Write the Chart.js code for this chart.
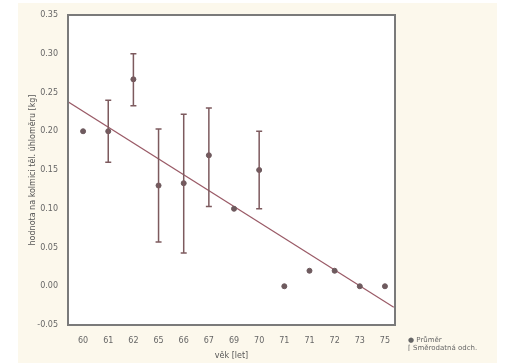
<!DOCTYPE html>
<html>
<head>
<meta charset="utf-8">
<script src="https://cdn.jsdelivr.net/npm/chart.js@4/dist/chart.umd.min.js"></script>
<style>
  html, body { margin: 0; padding: 0; background: #fff; }
  #wrap { position: absolute; left: 18px; top: 3px; width: 479px; height: 360px; background: #fcf8ec; }
  #legend { position: absolute; left: 390px; top: 333px; font: 7px "DejaVu Sans", sans-serif; color: #666; line-height: 8px; }
</style>
</head>
<body>
<div id="wrap">
  <canvas id="chart" width="479" height="360"></canvas>
  <div id="legend">&#9679; Průměr<br>&#8968; Směrodatná odch.</div>
</div>
<script>
// ages on x axis
const ages = ["60", "61", "62", "65", "66", "67", "69", "70", "71", "71", "72", "73", "75"];
const means = [0.20, 0.20, 0.267, 0.13, 0.133, 0.169, 0.10, 0.15, 0.00, 0.02, 0.02, 0.00, 0.00];
const errLow = [null, 0.16, 0.233, 0.057, 0.043, 0.103, null, 0.10, null, null, null, null, null];
const errHigh = [null, 0.24, 0.30, 0.203, 0.222, 0.23, null, 0.20, null, null, null, null, null];
// fitted line ends (index, value)
const fitX = [-0.6, 12.35];
const fitY = [0.238, -0.027];
const yTicks = [-0.05, 0.00, 0.05, 0.10, 0.15, 0.20, 0.25, 0.30, 0.35];

const errorBars = {
  id: 'errorBars',
  beforeDraw(chart) {
    const a = chart.chartArea, ctx = chart.ctx;
    ctx.save();
    ctx.fillStyle = '#ffffff';
    ctx.fillRect(a.left, a.top, a.right - a.left, a.bottom - a.top);
    ctx.restore();
  },
  afterDatasetsDraw(chart) {
    const x = chart.scales.x, y = chart.scales.y, ctx = chart.ctx;
    ctx.save();
    ctx.strokeStyle = '#7d5a5e';
    ctx.lineWidth = 1.5;
    errLow.forEach((lo, i) => {
      if (lo === null) return;
      const px = x.getPixelForValue(i);
      const p1 = y.getPixelForValue(lo), p2 = y.getPixelForValue(errHigh[i]);
      ctx.beginPath();
      ctx.moveTo(px, p1); ctx.lineTo(px, p2);
      ctx.moveTo(px - 3, p1); ctx.lineTo(px + 3, p1);
      ctx.moveTo(px - 3, p2); ctx.lineTo(px + 3, p2);
      ctx.stroke();
    });
    const a = chart.chartArea;
    ctx.strokeStyle = '#7a7a7a';
    ctx.lineWidth = 2;
    ctx.strokeRect(a.left, a.top, a.right - a.left, a.bottom - a.top);
    ctx.restore();
  }
};

new Chart('chart', {
  type: 'scatter',
  data: {
    datasets: [
      {
        label: 'Průměr',
        data: means.map((v, i) => ({ x: i, y: v })),
        pointRadius: 2.5,
        backgroundColor: '#6e5a5e',
        borderColor: '#6e5a5e',
        order: 1
      },
      {
        label: 'fit',
        type: 'line',
        data: fitX.map((v, i) => ({ x: v, y: fitY[i] })),
        borderColor: '#9a5a66',
        borderWidth: 1.2,
        pointRadius: 0,
        order: 2
      }
    ]
  },
  options: {
    responsive: false,
    animation: false,
    layout: { padding: { top: 12, right: 102, left: 6, bottom: 0 } },
    plugins: { legend: { display: false }, tooltip: { enabled: false } },
    scales: {
      x: {
        type: 'linear',
        min: -0.6,
        max: 12.4,
        afterBuildTicks(s) { s.ticks = ages.map((a, i) => ({ value: i })); },
        afterFit(s) { s.height = 38; },
        grid: { display: false },
        border: { display: false },
        ticks: {
          callback: (v) => ages[v],
          color: '#666',
          font: { size: 8, family: 'DejaVu Sans' },
          padding: 3
        },
        title: { display: true, text: 'věk [let]', color: '#555', font: { size: 8, family: 'DejaVu Sans' }, padding: 2 }
      },
      y: {
        min: -0.05,
        max: 0.35,
        afterBuildTicks(s) { s.ticks = yTicks.map(v => ({ value: v })); },
        afterFit(s) { s.width = 44; },
        grid: { display: false },
        border: { display: false },
        ticks: {
          callback: (v) => v.toFixed(2),
          color: '#666',
          font: { size: 8, family: 'DejaVu Sans' },
          padding: 2
        },
        title: { display: true, text: 'hodnota na kolmici těl. úhloměru [kg]', color: '#555', font: { size: 8, family: 'DejaVu Sans' }, padding: 4 }
      }
    }
  },
  plugins: [errorBars]
});
</script>
</body>
</html>
